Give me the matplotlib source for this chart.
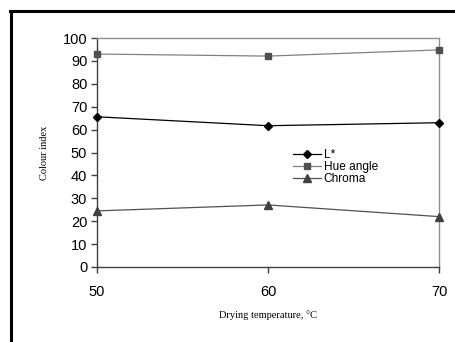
import matplotlib.pyplot as plt
from matplotlib.lines import Line2D

# Colour parameters vs drying temperature
temps = [50, 60, 70]
l_star = [65.6, 61.7, 63.0]
hue_angle = [93.0, 92.1, 94.8]
chroma = [24.5, 27.1, 22.0]

fig = plt.figure(figsize=(4.55, 3.42), dpi=100)
ax = fig.add_axes([97 / 455, 1 - 267 / 342, (439 - 97) / 455, (267 - 38) / 342])

ax.plot(temps, l_star, color='black', lw=0.9, marker='D', ms=4.5,
        mfc='black', mec='black', label='L*', clip_on=False, zorder=3)
ax.plot(temps, hue_angle, color='#808080', lw=0.9, marker='s', ms=5,
        mfc='#505050', mec='#505050', label='Hue angle', clip_on=False, zorder=3)
ax.plot(temps, chroma, color='#505050', lw=0.9, marker='^', ms=5.5,
        mfc='#404040', mec='#404040', label='Chroma', clip_on=False, zorder=3)

ax.set_xlim(50, 70)
ax.set_ylim(0, 100)
ax.set_xticks(temps)
ax.set_yticks(range(0, 101, 10))

for side in ['left', 'bottom']:
    ax.spines[side].set_color('#404040')
    ax.spines[side].set_linewidth(1.0)
for side in ['top', 'right']:
    ax.spines[side].set_color('#909090')
    ax.spines[side].set_linewidth(1.0)

ax.tick_params(axis='y', direction='out', length=4, width=1, color='#404040',
               labelsize=10.5, pad=3)
ax.tick_params(axis='x', direction='out', length=4, width=1, color='#404040',
               labelsize=10.5, pad=9)
for lbl in ax.get_xticklabels() + ax.get_yticklabels():
    lbl.set_fontfamily('Liberation Sans')

ax.set_xlabel('Drying temperature, \u00b0C', family='Liberation Serif', fontsize=7.5, labelpad=8)
ax.set_ylabel('Colour index', family='Liberation Serif', fontsize=7.5, labelpad=10)

leg = ax.legend(loc='upper left', bbox_to_anchor=(0.555, 0.54), frameon=False,
                prop={'family': 'Liberation Sans', 'size': 8.6}, handlelength=2.4,
                labelspacing=0.0, handletextpad=0.2, borderpad=0)

# outer frame lines (top and left)
fig.add_artist(Line2D([10 / 455, 1], [1 - 10.5 / 342, 1 - 10.5 / 342],
                      transform=fig.transFigure, color='black', lw=2.2))
fig.add_artist(Line2D([10.5 / 455, 10.5 / 455], [0, 1 - 10.5 / 342],
                      transform=fig.transFigure, color='black', lw=2.2))

fig.savefig('out.png', dpi=100)
